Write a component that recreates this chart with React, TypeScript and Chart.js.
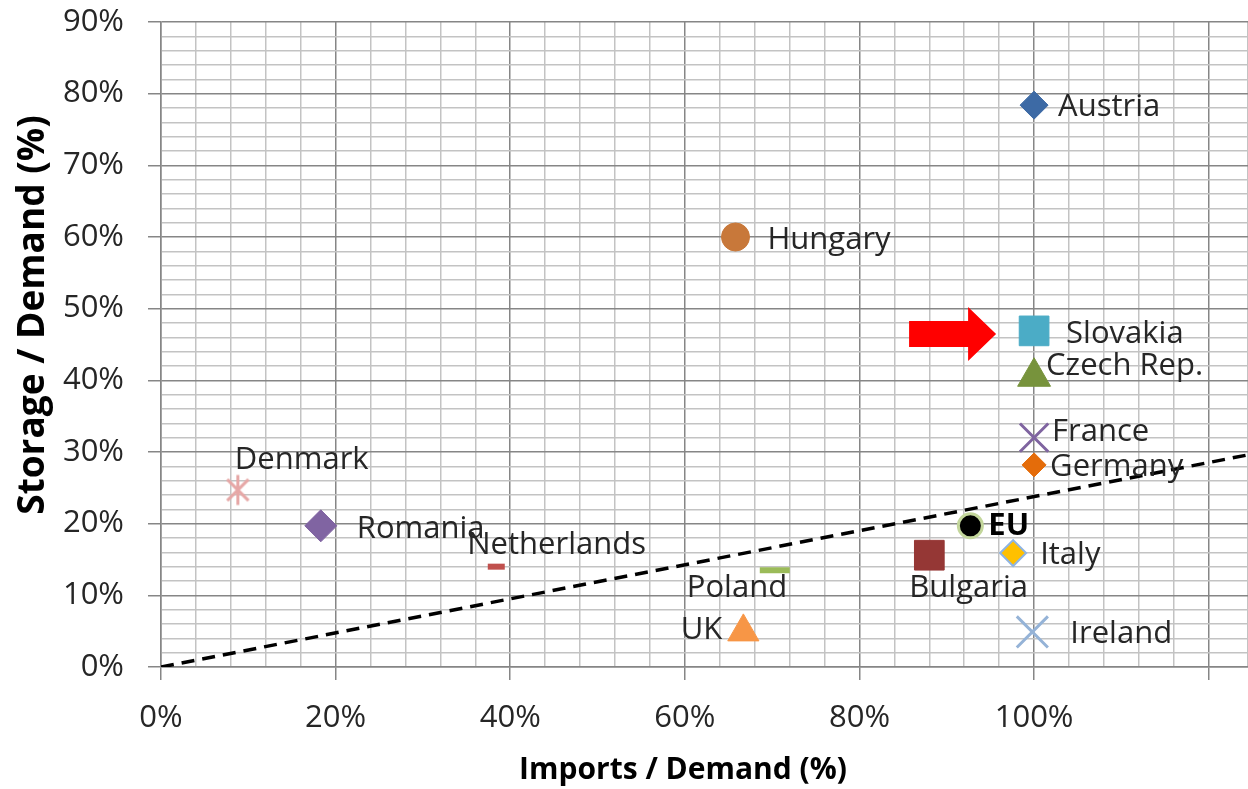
import React, { useEffect, useRef } from 'react';
import { Chart, registerables } from 'chart.js';

Chart.register(...registerables);

const countries = ['Austria', 'Hungary', 'Slovakia', 'Czech Rep.', 'France', 'Germany', 'Denmark', 'Romania', 'Netherlands', 'Poland', 'UK', 'EU', 'Bulgaria', 'Italy', 'Ireland'];
const importsPct = [100, 65.8, 100, 100, 100, 100, 8.8, 18.3, 38.4, 70.3, 66.7, 92.7, 88.0, 97.6, 99.8];
const storagePct = [78.4, 60.0, 46.9, 40.5, 32.0, 28.2, 24.7, 19.7, 14.0, 13.5, 4.9, 19.7, 15.6, 15.9, 4.9];

const trendImports = [0, 124.5];
const trendStorage = [0, 29.6];

const xAxisMax = 124.5;
const yAxisMax = 90;
const xTitle = 'Imports / Demand (%)';
const yTitle = 'Storage / Demand (%)';

const FONT = "'Open Sans'";
const MAJOR = '#868686';
const MINOR = '#c3c3c3';
const TEXT = '#262626';

type Marker = { shape: string; r: number; fill?: string; line?: string; w: number };
const markerStyles: Marker[] = [
  { shape: 'rectRot', r: 14, fill: '#3D6AA5', line: '#3D6AA5', w: 1 },
  { shape: 'circle', r: 14, fill: '#C8783A', line: '#C8783A', w: 1 },
  { shape: 'rect', r: 21, fill: '#4BACC6', line: '#4BACC6', w: 1 },
  { shape: 'triangle', r: 19, fill: '#77933C', line: '#77933C', w: 1 },
  { shape: 'crossRot', r: 20, fill: '#7F64A0', line: '#7F64A0', w: 3 },
  { shape: 'rectRot', r: 12, fill: '#E46C0A', line: '#E46C0A', w: 1 },
  { shape: 'asterisk', r: 15, line: '#E6A7A6', w: 3 },
  { shape: 'rectRot', r: 16, fill: '#8064A2', line: '#8064A2', w: 1 },
  { shape: 'line', r: 8.5, line: '#C0504D', w: 6 },
  { shape: 'line', r: 15, line: '#9BBB59', w: 6 },
  { shape: 'triangle', r: 18, fill: '#F79646', line: '#F79646', w: 1 },
  { shape: 'circle', r: 12, fill: '#000000', line: '#C3D69B', w: 3 },
  { shape: 'rect', r: 21, fill: '#953735', line: '#953735', w: 1 },
  { shape: 'rectRot', r: 13, fill: '#FFC000', line: '#8EB4E3', w: 2 },
  { shape: 'crossRot', r: 22, line: '#95B3D7', w: 3 },
];

type LabelPos = { dx: number; dy: number; align: CanvasTextAlign; bold?: boolean };
const labelOffsets: LabelPos[] = [
  { dx: 24, dy: 2, align: 'left' },
  { dx: 32, dy: 3, align: 'left' },
  { dx: 32, dy: 3, align: 'left' },
  { dx: 12, dy: -11, align: 'left' },
  { dx: 18, dy: -5, align: 'left' },
  { dx: 16, dy: 2, align: 'left' },
  { dx: -3, dy: -30, align: 'left' },
  { dx: 36, dy: 3, align: 'left' },
  { dx: -29, dy: -21, align: 'left' },
  { dx: -88, dy: 18, align: 'left' },
  { dx: -21, dy: -2, align: 'right' },
  { dx: 18, dy: 0, align: 'left', bold: true },
  { dx: -20, dy: 33, align: 'left' },
  { dx: 27, dy: 2, align: 'left' },
  { dx: 38, dy: 2, align: 'left' },
];

function makeAsterisk(r: number, color: string, w: number): HTMLCanvasElement {
  const size = Math.ceil(2 * r + w + 2);
  const c = document.createElement('canvas');
  c.width = size;
  c.height = size;
  const g = c.getContext('2d')!;
  const m = size / 2;
  const d = r * Math.SQRT1_2;
  g.strokeStyle = color;
  g.lineWidth = w;
  g.beginPath();
  g.moveTo(m, m - r);
  g.lineTo(m, m + r);
  g.moveTo(m - d, m - d);
  g.lineTo(m + d, m + d);
  g.moveTo(m - d, m + d);
  g.lineTo(m + d, m - d);
  g.stroke();
  return c;
}

const labelPlugin = {
  id: 'pointLabels',
  afterDatasetsDraw(chart: any) {
    const ctx: CanvasRenderingContext2D = chart.ctx;
    countries.forEach((name, i) => {
      const pt = chart.getDatasetMeta(i).data[0];
      if (!pt) return;
      const off = labelOffsets[i];
      ctx.save();
      ctx.font = `${off.bold ? 'bold ' : ''}31px ${FONT}`;
      ctx.fillStyle = off.bold ? '#000' : TEXT;
      ctx.textAlign = off.align;
      ctx.textBaseline = 'middle';
      ctx.fillText(name, pt.x + off.dx, pt.y + off.dy);
      ctx.restore();
    });
    // red arrow pointing to Slovakia
    const sk = chart.getDatasetMeta(countries.indexOf('Slovakia')).data[0];
    if (sk) {
      const tipX = sk.x - 38;
      const tipY = sk.y + 3;
      ctx.save();
      ctx.fillStyle = '#FF0000';
      ctx.beginPath();
      ctx.moveTo(tipX, tipY);
      ctx.lineTo(tipX - 28, tipY - 27);
      ctx.lineTo(tipX - 28, tipY - 13);
      ctx.lineTo(tipX - 87, tipY - 13);
      ctx.lineTo(tipX - 87, tipY + 13);
      ctx.lineTo(tipX - 28, tipY + 13);
      ctx.lineTo(tipX - 28, tipY + 27);
      ctx.closePath();
      ctx.fill();
      ctx.restore();
    }
    // axis titles
    ctx.save();
    ctx.font = `bold 30px ${FONT}`;
    ctx.fillStyle = '#000';
    ctx.textAlign = 'center';
    ctx.textBaseline = 'middle';
    ctx.fillText(xTitle, 683, 770);
    ctx.translate(33, 315);
    ctx.rotate(-Math.PI / 2);
    ctx.font = `bold 37px ${FONT}`;
    ctx.fillText(yTitle, 0, 0);
    ctx.restore();
  },
};

export default function App() {
  const ref = useRef<HTMLCanvasElement>(null);

  useEffect(() => {
    if (!ref.current) return;
    const datasets: any[] = countries.map((name, i) => {
      const s = markerStyles[i];
      const style = s.shape === 'asterisk' ? makeAsterisk(s.r, s.line!, s.w) : s.shape;
      return {
        type: 'scatter',
        label: name,
        data: [{ x: importsPct[i], y: storagePct[i] }],
        pointStyle: style,
        pointRadius: s.r,
        pointHoverRadius: s.r,
        backgroundColor: s.fill ?? s.line,
        borderColor: s.line ?? s.fill,
        borderWidth: s.w,
        clip: false,
      };
    });
    datasets.push({
      type: 'line',
      label: 'trend',
      data: trendImports.map((x, i) => ({ x, y: trendStorage[i] })),
      borderColor: '#000',
      borderWidth: 3.5,
      borderDash: [13, 8],
      pointRadius: 0,
      fill: false,
    });

    const chart = new Chart(ref.current, {
      type: 'scatter',
      data: { datasets },
      options: {
        animation: false,
        responsive: false,
        devicePixelRatio: 1,
        layout: { autoPadding: false, padding: { top: 22, right: 0, bottom: 0, left: 0 } },
        plugins: { legend: { display: false }, tooltip: { enabled: false } },
        scales: {
          x: {
            type: 'linear',
            min: 0,
            max: xAxisMax,
            afterFit: (s: any) => { s.height = 122; s.paddingLeft = 0; s.paddingRight = 0; },
            ticks: {
              stepSize: 4,
              autoSkip: false,
              maxRotation: 0,
              padding: 20,
              color: TEXT,
              font: { family: FONT, size: 31 },
              callback: (v: any) => (Number(v) % 20 === 0 && Number(v) <= 100 ? `${v}%` : ''),
            },
            grid: {
              color: (c: any) => (c.tick && c.tick.value % 20 === 0 ? MAJOR : MINOR),
              lineWidth: 1.5,
              tickLength: 13,
              tickColor: (c: any) => (c.tick && c.tick.value % 20 === 0 ? MAJOR : 'rgba(0,0,0,0)'),
            },
            border: { color: MAJOR, width: 1.5 },
          },
          y: {
            type: 'linear',
            min: 0,
            max: yAxisMax,
            afterFit: (s: any) => { s.width = 161; s.paddingTop = 0; s.paddingBottom = 0; },
            ticks: {
              stepSize: 2,
              autoSkip: false,
              padding: 24,
              color: TEXT,
              font: { family: FONT, size: 31 },
              callback: (v: any) => (Number(v) % 10 === 0 ? `${v}%` : ''),
            },
            grid: {
              color: (c: any) => (c.tick && c.tick.value % 10 === 0 ? MAJOR : MINOR),
              lineWidth: 1.5,
              tickLength: 13,
              tickColor: (c: any) => (c.tick && c.tick.value % 10 === 0 ? MAJOR : 'rgba(0,0,0,0)'),
            },
            border: { color: MAJOR, width: 1.5 },
          },
        },
      },
      plugins: [labelPlugin],
    });
    return () => chart.destroy();
  }, []);

  return (
    <div style={{ position: 'fixed', left: 0, top: 0, width: 1248, height: 789, background: '#fff' }}>
      <canvas ref={ref} width={1248} height={789} style={{ display: 'block' }} />
    </div>
  );
}
